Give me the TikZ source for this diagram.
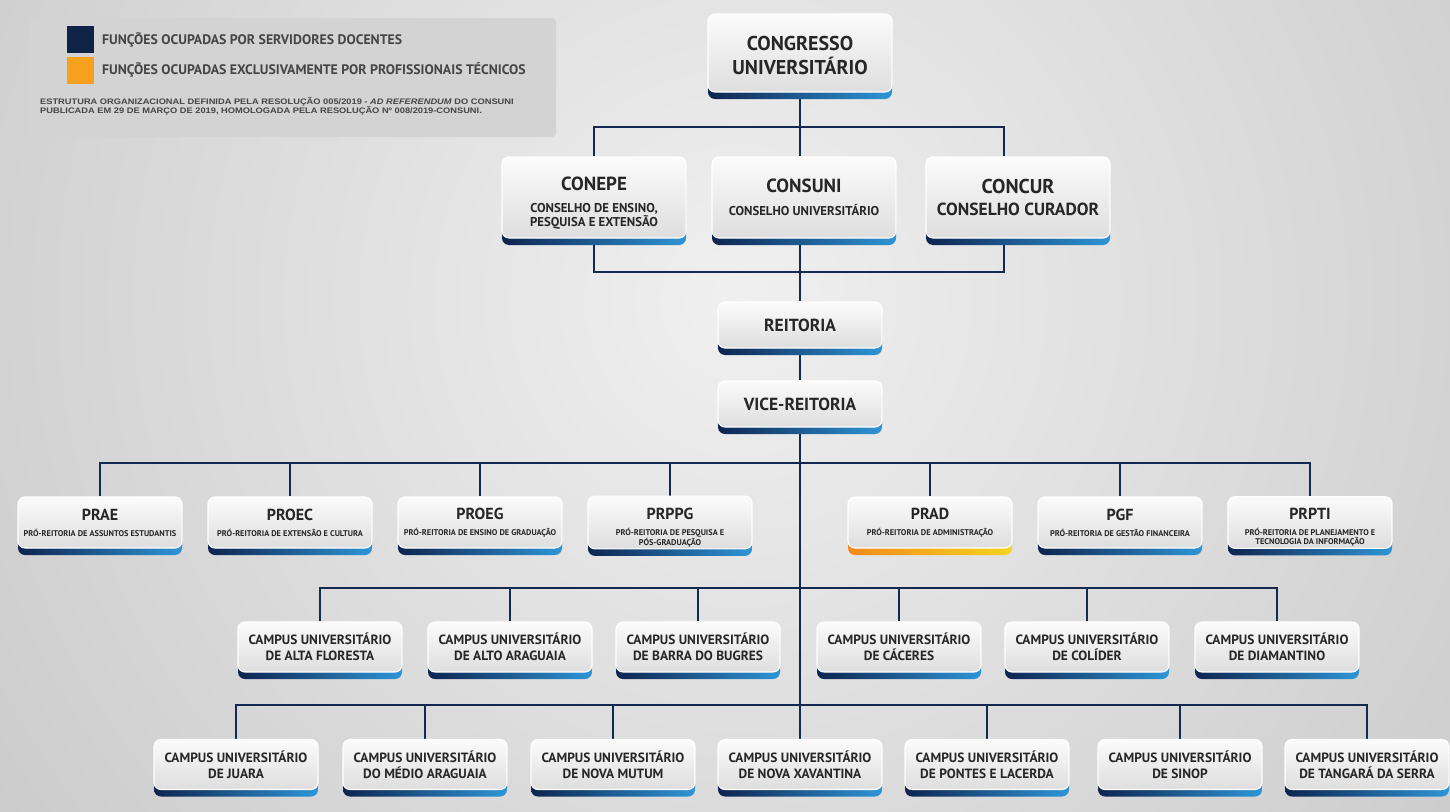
\documentclass[tikz,border=0pt]{standalone}
\usepackage{fontspec}
\setmainfont{PT Sans}
\newfontfamily\bxfont{PT Sans}
\newfontfamily\lgfont{Liberation Sans}[FakeStretch=1.16]
\usetikzlibrary{shadows}
\definecolor{navy}{HTML}{0E2450}
\definecolor{skyb}{HTML}{2E95D6}
\definecolor{orng}{HTML}{F28A1C}
\definecolor{yllw}{HTML}{F6D31E}
\definecolor{txt}{HTML}{262626}
\definecolor{lnk}{HTML}{13294F}
\definecolor{legbg}{HTML}{D3D3D3}
\definecolor{legnavy}{HTML}{0F2347}
\definecolor{legorange}{HTML}{F7A01E}
\definecolor{legtxt}{HTML}{454545}
\pgfdeclarelayer{back}
\pgfdeclarelayer{lines}
\pgfsetlayers{back,lines,main}
\newcommand\bxT[2][16]{{\fontsize{#1}{#1}\selectfont #2}}
\tikzset{
  base/.style={rounded corners=7pt, draw=white, line width=1.1pt, top color=gray!3, bottom color=gray!26,
    align=center, text=txt, inner sep=2pt, font=\bxfont\bfseries},
  bluebox/.style={base, general shadow={shadow yshift=-7pt, left color=navy, right color=skyb}},
  orangebox/.style={base, general shadow={shadow yshift=-7pt, left color=orng, right color=yllw}},
  council/.style={bluebox, minimum width=184pt, minimum height=81pt, font=\bxfont\bfseries\fontsize{12.8}{11}\selectfont},
  rectbox/.style={bluebox, minimum width=164pt, minimum height=46pt, font=\bxfont\bfseries\fontsize{17.5}{19}\selectfont},
  probox/.style={bluebox, minimum width=164pt, minimum height=51pt, font=\bxfont\bfseries\fontsize{8.3}{9}\selectfont},
  proboxo/.style={orangebox, minimum width=164pt, minimum height=51pt, font=\bxfont\bfseries\fontsize{8.3}{9}\selectfont},
  campbox/.style={bluebox, minimum width=164pt, minimum height=50pt, font=\bxfont\bfseries\fontsize{13.4}{16}\selectfont},
  link/.style={draw=lnk, line width=2.6pt},
}
\begin{document}
\begin{tikzpicture}[x=1pt,y=-1pt]
\useasboundingbox (0,0) rectangle (1450,811);
\begin{pgfonlayer}{back}
  \begin{scope}
    \clip (0,0) rectangle (1450,811);
    \shade[inner color=gray!12, outer color=gray!62] (740,300) circle (1600);
  \end{scope}
  \fill[legbg, rounded corners=4pt] (30,18) rectangle (556,137);
  \fill[legnavy] (67,26) rectangle (94,53);
  \fill[legorange] (67,57) rectangle (94,84);
  \node[anchor=west, inner sep=0pt, text=legtxt, font=\bfseries\fontsize{13.8}{15}\selectfont] (lg1) at (102,40) {FUNÇÕES OCUPADAS POR SERVIDORES DOCENTES};
  \node[anchor=west, inner sep=0pt, text=legtxt, font=\bfseries\fontsize{13.8}{15}\selectfont] (lg2) at (102,70) {FUNÇÕES OCUPADAS EXCLUSIVAMENTE POR PROFISSIONAIS TÉCNICOS};
  \node[anchor=west, inner sep=0pt, text=legtxt, align=left, font=\lgfont\bfseries\fontsize{8}{9.5}\selectfont] (lg3) at (40,106.5)
    {ESTRUTURA ORGANIZACIONAL DEFINIDA PELA RESOLUÇÃO 005/2019 - \textit{AD REFERENDUM} DO CONSUNI\\PUBLICADA EM 29 DE MARÇO DE 2019, HOMOLOGADA PELA RESOLUÇÃO Nº 008/2019-CONSUNI.};
\end{pgfonlayer}

% top
\node[bluebox, minimum width=184pt, minimum height=78pt, font=\bxfont\bfseries\fontsize{20}{24}\selectfont] (cong) at (800,53) {\rule{0pt}{19pt}CONGRESSO\\UNIVERSITÁRIO};
\node[council] (conepe) at (594,197.5) {\bxT[19]{\rule{0pt}{24pt}CONEPE}\\[11pt]CONSELHO DE ENSINO,\\PESQUISA E EXTENSÃO};
\node[council] (consuni) at (804,197.5) {\bxT[19]{CONSUNI}\\[11pt]CONSELHO UNIVERSITÁRIO};
\node[council, font=\bxfont\bfseries\fontsize{17.5}{19}\selectfont] (concur) at (1018,197.5) {\bxT[20]{CONCUR}\\[3pt]CONSELHO CURADOR};
\node[rectbox] (reit) at (800,325) {REITORIA};
\node[rectbox] (vice) at (800,404) {VICE-REITORIA};

% pro-reitorias
\node[probox] (prae) at (100,522.5) {\bxT{PRAE}\\[7pt]PRÓ-REITORIA DE ASSUNTOS ESTUDANTIS};
\node[probox] (proec) at (290,522.5) {\bxT{PROEC}\\[7pt]PRÓ-REITORIA DE EXTENSÃO E CULTURA};
\node[probox] (proeg) at (480,522.5) {\bxT{PROEG}\\[7pt]PRÓ-REITORIA DE ENSINO DE GRADUAÇÃO};
\node[probox] (prppg) at (670,522.5) {\bxT{\rule{0pt}{21pt}PRPPG}\\[7pt]PRÓ-REITORIA DE PESQUISA E\\PÓS-GRADUAÇÃO};
\node[proboxo] (prad) at (930,522.5) {\bxT{PRAD}\\[7pt]PRÓ-REITORIA DE ADMINISTRAÇÃO};
\node[probox] (pgf) at (1120,522.5) {\bxT{PGF}\\[7pt]PRÓ-REITORIA DE GESTÃO FINANCEIRA};
\node[probox] (prpti) at (1310,522.5) {\bxT{\rule{0pt}{21pt}PRPTI}\\[7pt]PRÓ-REITORIA DE PLANEJAMENTO E\\TECNOLOGIA DA INFORMAÇÃO};

% campus row 1
\node[campbox] (altaf) at (320,647) {CAMPUS UNIVERSITÁRIO\\DE ALTA FLORESTA};
\node[campbox] (altoa) at (510,647) {CAMPUS UNIVERSITÁRIO\\DE ALTO ARAGUAIA};
\node[campbox] (barra) at (698,647) {CAMPUS UNIVERSITÁRIO\\DE BARRA DO BUGRES};
\node[campbox] (cace) at (899,647) {CAMPUS UNIVERSITÁRIO\\DE CÁCERES};
\node[campbox] (coli) at (1087,647) {CAMPUS UNIVERSITÁRIO\\DE COLÍDER};
\node[campbox] (diam) at (1277,647) {CAMPUS UNIVERSITÁRIO\\DE DIAMANTINO};

% campus row 2
\node[campbox] (juara) at (236,764.5) {CAMPUS UNIVERSITÁRIO\\DE JUARA};
\node[campbox] (medio) at (425,764.5) {CAMPUS UNIVERSITÁRIO\\DO MÉDIO ARAGUAIA};
\node[campbox] (mutum) at (613,764.5) {CAMPUS UNIVERSITÁRIO\\DE NOVA MUTUM};
\node[campbox] (xav) at (800,764.5) {CAMPUS UNIVERSITÁRIO\\DE NOVA XAVANTINA};
\node[campbox] (pontes) at (987,764.5) {CAMPUS UNIVERSITÁRIO\\DE PONTES E LACERDA};
\node[campbox] (sinop) at (1180,764.5) {CAMPUS UNIVERSITÁRIO\\DE SINOP};
\node[campbox] (tang) at (1367,764.5) {CAMPUS UNIVERSITÁRIO\\DE TANGARÁ DA SERRA};

\begin{pgfonlayer}{lines}
  \coordinate (t1) at (800,127);
  \coordinate (t2) at (800,272);
  \coordinate (t3) at (800,463);
  \coordinate (t4) at (800,588);
  \coordinate (t5) at (800,705);
  \draw[link] (cong.south) -- (t1);
  \draw[link] (conepe.north) |- (t1) -| ([xshift=-14pt]concur.north);
  \draw[link] (t1) -- (t1 |- consuni.north);
  \draw[link] (conepe.south) |- (t2) -| ([xshift=-14pt]concur.south);
  \draw[link] (t1 |- consuni.south) -- (reit.north);
  \draw[link] (reit.south) -- (vice.north);
  \draw[link] (vice.south) -- (xav.north);
  \draw[link] (prae.north) |- (t3) -| (prpti.north);
  \foreach \n in {proec,proeg,prppg,prad,pgf} \draw[link] (\n.north) -- (\n.north |- t3);
  \draw[link] (altaf.north) |- (t4) -| (diam.north);
  \foreach \n in {altoa,barra,cace,coli} \draw[link] (\n.north) -- (\n.north |- t4);
  \draw[link] (juara.north) |- (t5) -| (tang.north);
  \foreach \n in {medio,mutum,pontes,sinop} \draw[link] (\n.north) -- (\n.north |- t5);
\end{pgfonlayer}
\end{tikzpicture}
\end{document}
